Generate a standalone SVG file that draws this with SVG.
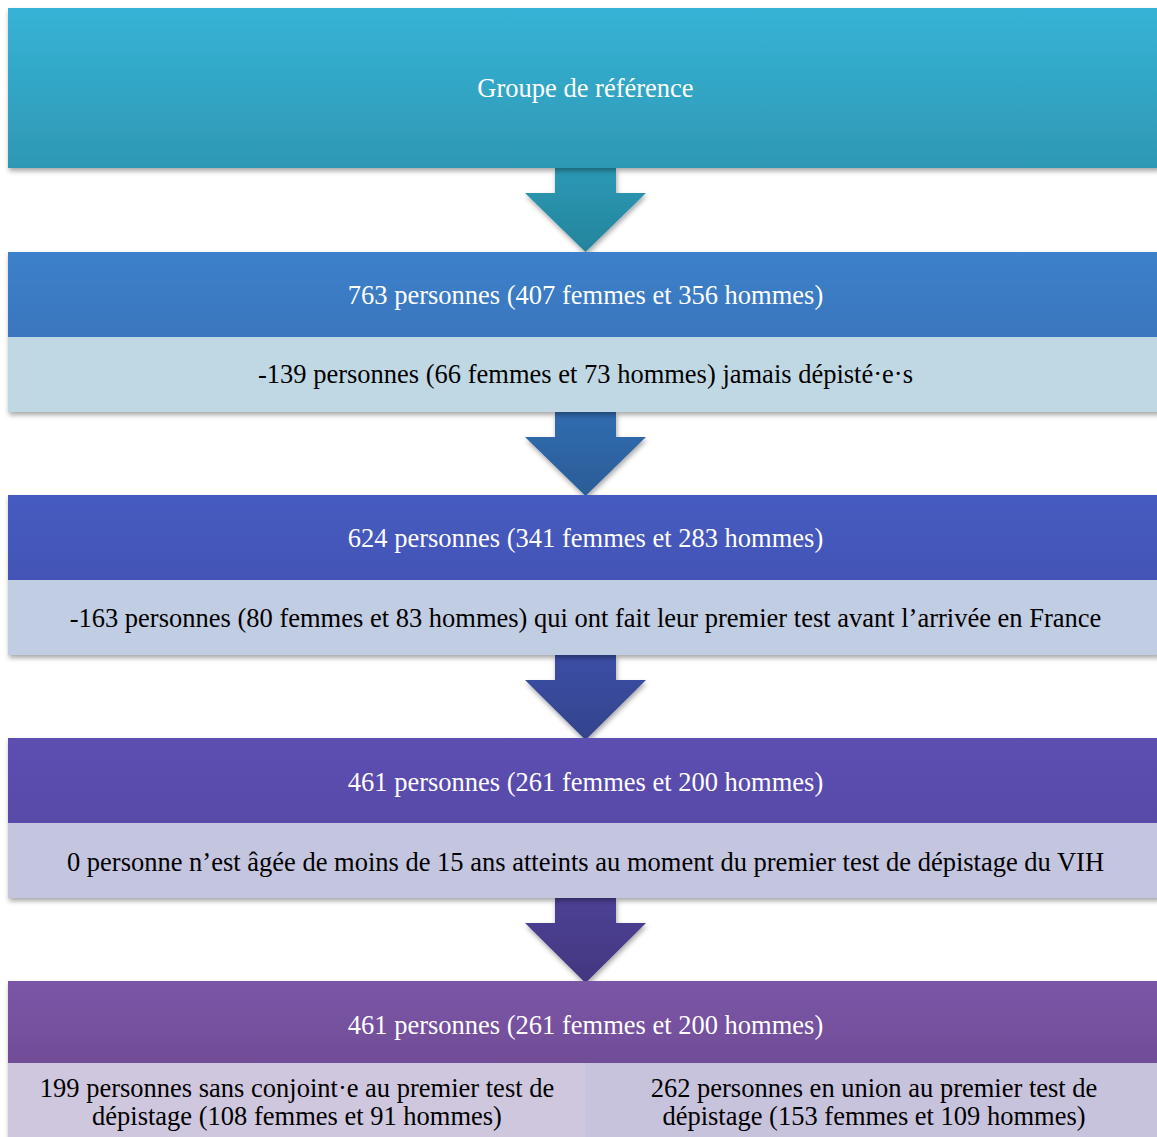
<svg xmlns="http://www.w3.org/2000/svg" width="1157" height="1137" viewBox="0 0 1157 1137">
<defs>
<filter id="sh" x="-5%" y="-20%" width="110%" height="150%">
<feDropShadow dx="1" dy="3" stdDeviation="2.5" flood-color="#000" flood-opacity="0.35"/>
</filter>
<linearGradient id="g1" x1="0" y1="0" x2="0" y2="1"><stop offset="0" stop-color="#36B3D6"/><stop offset="1" stop-color="#2E98B4"/></linearGradient>
<linearGradient id="a1" x1="0" y1="0" x2="0" y2="1"><stop offset="0" stop-color="#2C99B5"/><stop offset="1" stop-color="#24849D"/></linearGradient>
<linearGradient id="g2" x1="0" y1="0" x2="0" y2="1"><stop offset="0" stop-color="#3C81CB"/><stop offset="1" stop-color="#3A76BD"/></linearGradient>
<linearGradient id="a2" x1="0" y1="0" x2="0" y2="1"><stop offset="0" stop-color="#306CB0"/><stop offset="1" stop-color="#2B5D97"/></linearGradient>
<linearGradient id="g3" x1="0" y1="0" x2="0" y2="1"><stop offset="0" stop-color="#465BC0"/><stop offset="1" stop-color="#4454B6"/></linearGradient>
<linearGradient id="a3" x1="0" y1="0" x2="0" y2="1"><stop offset="0" stop-color="#3B4FA6"/><stop offset="1" stop-color="#34438C"/></linearGradient>
<linearGradient id="g4" x1="0" y1="0" x2="0" y2="1"><stop offset="0" stop-color="#5D4EB2"/><stop offset="1" stop-color="#574AA8"/></linearGradient>
<linearGradient id="a4" x1="0" y1="0" x2="0" y2="1"><stop offset="0" stop-color="#4C4196"/><stop offset="1" stop-color="#43377F"/></linearGradient>
<linearGradient id="g5" x1="0" y1="0" x2="0" y2="1"><stop offset="0" stop-color="#7B56A7"/><stop offset="1" stop-color="#714D98"/></linearGradient>
</defs>
<style>
.t{font-family:"Liberation Serif","Times New Roman",serif;font-size:26.5px;text-anchor:middle}
.w{fill:#fff}
.k{fill:#000}
</style>
<g id="connectors">
<path d="M555 168 H616 V193 H646 L585.5 252 L525 193 H555 Z" fill="url(#a1)" filter="url(#sh)"/>
<path d="M555 412 H616 V437 H646 L585.5 496 L525 437 H555 Z" fill="url(#a2)" filter="url(#sh)"/>
<path d="M555 655 H616 V680 H646 L585.5 740 L525 680 H555 Z" fill="url(#a3)" filter="url(#sh)"/>
<path d="M555 898 H616 V923 H646 L585.5 983 L525 923 H555 Z" fill="url(#a4)" filter="url(#sh)"/>
</g>
<g id="n1">
<rect x="8" y="8" width="1152" height="160" fill="url(#g1)" filter="url(#sh)"/>
<text class="t w" x="585.5" y="97">Groupe de référence</text>
</g>
<g id="n2">
<rect x="8" y="252" width="1152" height="160" fill="#C0D8E4" filter="url(#sh)"/>
<rect x="8" y="252" width="1152" height="85" fill="url(#g2)"/>
<text class="t w" x="585.5" y="304">763 personnes (407 femmes et 356 hommes)</text>
<text class="t k" x="585.5" y="383">-139 personnes (66 femmes et 73 hommes) jamais dépisté·e·s</text>
</g>
<g id="n3">
<rect x="8" y="495" width="1152" height="160" fill="#C1CDE2" filter="url(#sh)"/>
<rect x="8" y="495" width="1152" height="85" fill="url(#g3)"/>
<text class="t w" x="585.5" y="547">624 personnes (341 femmes et 283 hommes)</text>
<text class="t k" x="585.5" y="627">-163 personnes (80 femmes et 83 hommes) qui ont fait leur premier test avant l’arrivée en France</text>
</g>
<g id="n4">
<rect x="8" y="738" width="1152" height="160" fill="#C4C5DF" filter="url(#sh)"/>
<rect x="8" y="738" width="1152" height="85" fill="url(#g4)"/>
<text class="t w" x="585.5" y="791">461 personnes (261 femmes et 200 hommes)</text>
<text class="t k" x="585.5" y="871">0 personne n’est âgée de moins de 15 ans atteints au moment du premier test de dépistage du VIH</text>
</g>
<g id="n5">
<rect x="8" y="981" width="1152" height="170" fill="#C9C4DC" filter="url(#sh)"/>
<rect x="8" y="981" width="1152" height="82" fill="url(#g5)"/>
<rect x="8" y="1063" width="577" height="80" fill="#CEC7DD"/>
<rect x="587" y="1063" width="573" height="80" fill="#C8C3DC"/>
<text class="t w" x="585.5" y="1034">461 personnes (261 femmes et 200 hommes)</text>
<text class="t k" x="297" y="1097">199 personnes sans conjoint·e au premier test de</text>
<text class="t k" x="297" y="1125">dépistage (108 femmes et 91 hommes)</text>
<text class="t k" x="874" y="1097">262 personnes en union au premier test de</text>
<text class="t k" x="874" y="1125">dépistage (153 femmes et 109 hommes)</text>
</g>
</svg>
